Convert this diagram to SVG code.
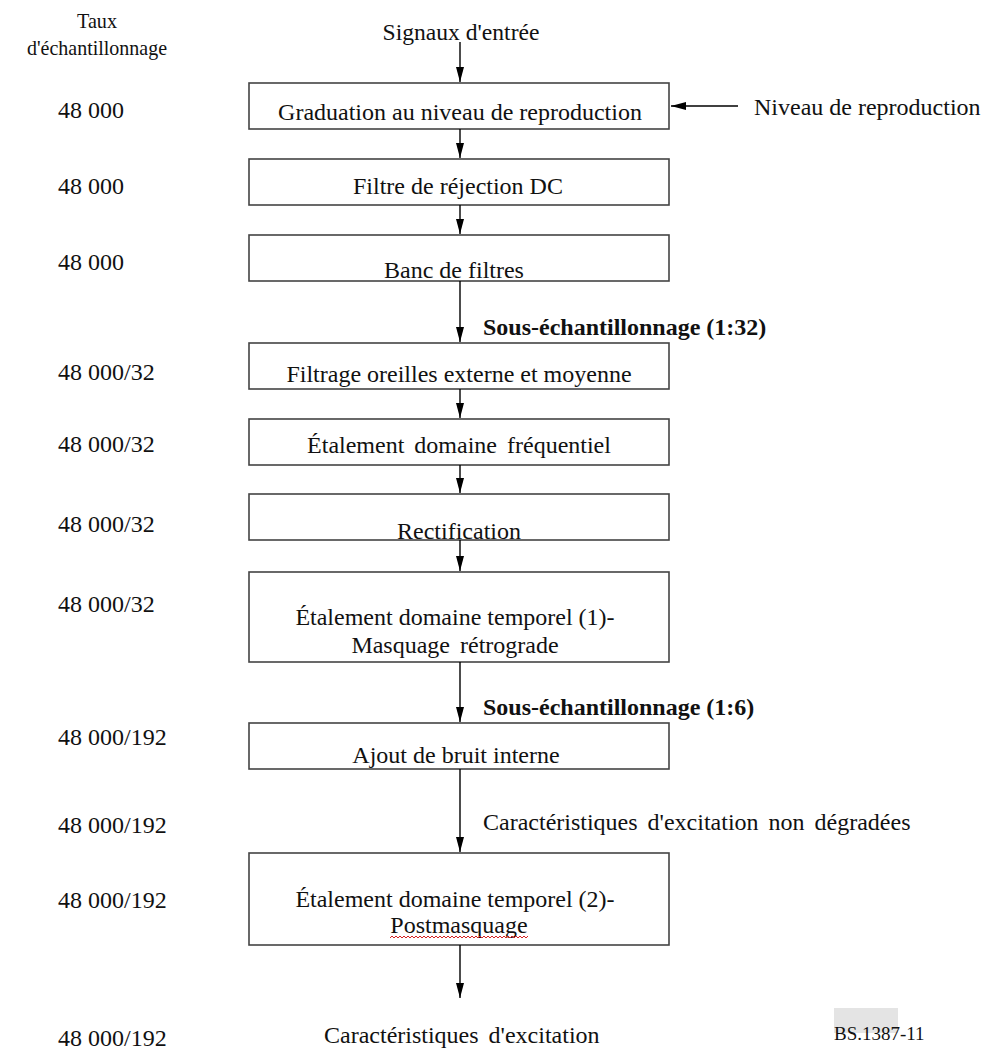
<svg xmlns="http://www.w3.org/2000/svg" width="986" height="1050" viewBox="0 0 986 1050">
<style>
  text { font-family: "Liberation Serif", "Times New Roman", serif; fill: #111; }
  .t { font-size: 24px; }
  .c { text-anchor: middle; }
  .b { font-weight: bold; }
  .hd { font-size: 21px; text-anchor: middle; }
  .box { fill: #fff; stroke: #444; stroke-width: 1.6; }
  .ln { stroke: #000; stroke-width: 1.4; fill: none; marker-end: url(#ah); }
  .ws { word-spacing: 4px; }
</style>
<defs>
  <marker id="ah" markerUnits="userSpaceOnUse" markerWidth="16" markerHeight="10" refX="15" refY="4" orient="auto">
    <path d="M0,0 L15,4 L0,8 z" fill="#000"/>
  </marker>
  <pattern id="sq" patternUnits="userSpaceOnUse" x="390" y="935" width="4" height="4">
    <path d="M0,3 L2,1 L4,3" stroke="#d42020" stroke-width="1" fill="none"/>
  </pattern>
</defs>
<rect width="986" height="1050" fill="#fff"/>

<g id="header">
  <text class="hd" x="97" y="28" textLength="40" lengthAdjust="spacingAndGlyphs">Taux</text>
  <text class="hd" x="97" y="55" textLength="140" lengthAdjust="spacingAndGlyphs">d'échantillonnage</text>
</g>

<g id="rates" class="t">
  <text class="t" x="58" y="118">48 000</text>
  <text class="t" x="58" y="194">48 000</text>
  <text class="t" x="58" y="270">48 000</text>
  <text class="t" x="58" y="380">48 000/32</text>
  <text class="t" x="58" y="452">48 000/32</text>
  <text class="t" x="58" y="532">48 000/32</text>
  <text class="t" x="58" y="612">48 000/32</text>
  <text class="t" x="58" y="745">48 000/192</text>
  <text class="t" x="58" y="833">48 000/192</text>
  <text class="t" x="58" y="908">48 000/192</text>
  <text class="t" x="58" y="1046">48 000/192</text>
</g>

<g id="input">
  <text class="t c" x="461" y="40" textLength="157" lengthAdjust="spacingAndGlyphs">Signaux d'entrée</text>
</g>
<g id="level">
  <text class="t" x="754" y="115">Niveau de reproduction</text>
</g>

<g id="n1"><rect class="box" x="249" y="83" width="420" height="46"/><text class="t c" x="460" y="120">Graduation au niveau de reproduction</text></g>
<g id="n2"><rect class="box" x="249" y="159" width="420" height="46"/><text class="t c" x="458" y="194">Filtre de réjection DC</text></g>
<g id="n3"><rect class="box" x="249" y="235" width="420" height="46"/><text class="t c" x="454" y="278">Banc de filtres</text></g>
<g id="n4"><rect class="box" x="249" y="343" width="420" height="46"/><text class="t c" x="459" y="382">Filtrage oreilles externe et moyenne</text></g>
<g id="n5"><rect class="box" x="249" y="419" width="420" height="46"/><text class="t c ws" x="459" y="453">Étalement domaine fréquentiel</text></g>
<g id="n6"><rect class="box" x="249" y="494" width="420" height="46"/><text class="t c" x="459" y="539">Rectification</text></g>
<g id="n7"><rect class="box" x="249" y="572" width="420" height="90"/><text class="t c" x="455" y="625">Étalement domaine temporel (1)-</text><text class="t c ws" x="455" y="653">Masquage rétrograde</text></g>
<g id="n8"><rect class="box" x="249" y="723" width="420" height="46"/><text class="t c" x="456" y="763">Ajout de bruit interne</text></g>
<g id="n9"><rect class="box" x="249" y="853" width="420" height="92"/><text class="t c" x="455" y="907">Étalement domaine temporel (2)-</text><text class="t c" x="459" y="933">Postmasquage</text><rect x="390" y="935" width="138" height="4" fill="url(#sq)"/></g>

<g id="labels">
  <text class="t b" x="483" y="335">Sous-échantillonnage (1:32)</text>
  <text class="t b" x="483" y="715">Sous-échantillonnage (1:6)</text>
  <text class="t ws" x="483" y="830">Caractéristiques d'excitation non dégradées</text>
  <text class="t ws" x="324" y="1043">Caractéristiques d'excitation</text>
</g>

<g id="connectors">
  <line class="ln" x1="460" y1="42" x2="460" y2="82"/>
  <line class="ln" x1="460" y1="129" x2="460" y2="158"/>
  <line class="ln" x1="460" y1="205" x2="460" y2="234"/>
  <line class="ln" x1="460" y1="281" x2="460" y2="342"/>
  <line class="ln" x1="460" y1="389" x2="460" y2="418"/>
  <line class="ln" x1="460" y1="465" x2="460" y2="493"/>
  <line class="ln" x1="460" y1="540" x2="460" y2="571"/>
  <line class="ln" x1="460" y1="662" x2="460" y2="722"/>
  <line class="ln" x1="460" y1="769" x2="460" y2="852"/>
  <line class="ln" x1="460" y1="945" x2="460" y2="998"/>
  <line class="ln" x1="738" y1="106" x2="671" y2="106"/>
</g>

<g id="ref">
  <rect x="834" y="1008" width="64" height="25" fill="#e4e4e4"/>
  <text x="834" y="1040" style="font-size:19px">BS.1387-11</text>
</g>
</svg>
